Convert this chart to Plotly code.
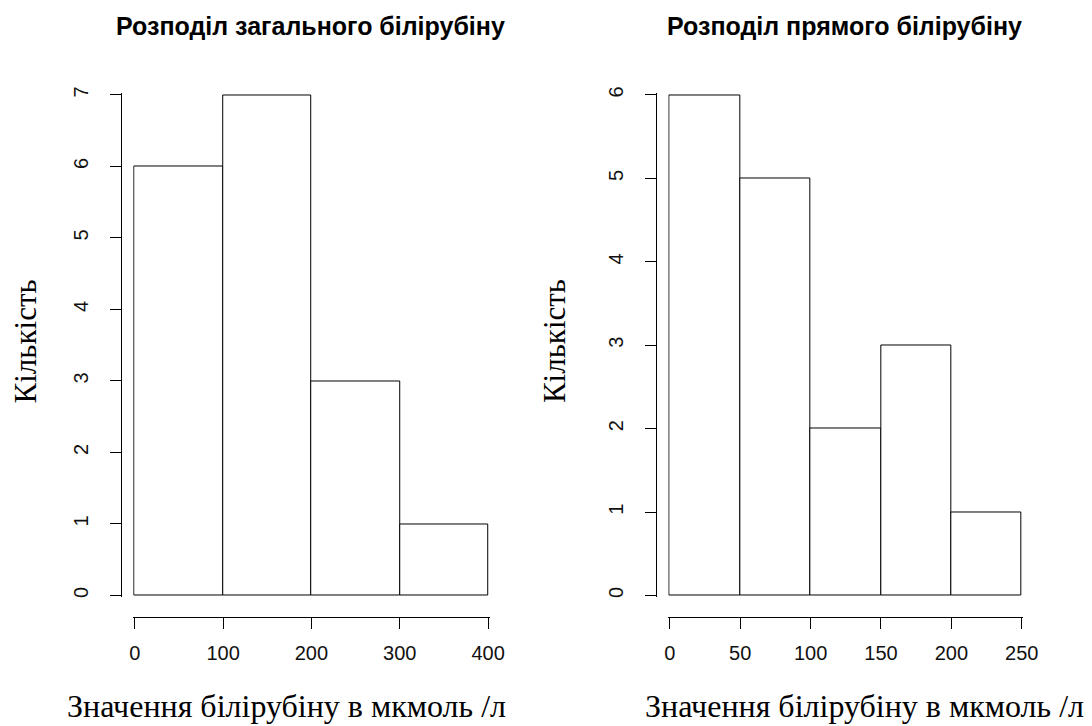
import plotly.graph_objects as go

# ---- data ----
total_edges = [0, 100, 200, 300, 400]
total_counts = [6, 7, 3, 1]
direct_edges = [0, 50, 100, 150, 200, 250]
direct_counts = [6, 5, 2, 3, 1]
total_ticks_x = [0, 100, 200, 300, 400]
total_ticks_y = [0, 1, 2, 3, 4, 5, 6, 7]
direct_ticks_x = [0, 50, 100, 150, 200, 250]
direct_ticks_y = [0, 1, 2, 3, 4, 5, 6]
titles = ["Розподіл загального білірубіну", "Розподіл прямого білірубіну"]
x_label = "Значення білірубіну в мкмоль /л"
y_label = "Кількість"

W, H = 1092, 726
PAD = 1.5  # px of padding so edge outlines are not clipped

# calibration of the rendered picture (observed = A * set + B)
AX, BX = 0.987, 1.7
AY, BY = 0.988, 6.1

def px_x(p):
    return ((p - BX) / AX) / W

def px_y(p):
    return 1 - ((p - BY) / AY) / H

def mids(edges):
    return [(a + b) / 2 for a, b in zip(edges[:-1], edges[1:])]

def widths(edges):
    return [b - a for a, b in zip(edges[:-1], edges[1:])]

fig = go.Figure()

panels = [
    dict(edges=total_edges, counts=total_counts, tx=total_ticks_x, ty=total_ticks_y,
         x0=133, x1=488, yaxis_px=119, xa="x", ya="y", xname="xaxis", yname="yaxis",
         title_x=310, xlab_x=285.5, ylab_x=23),
    dict(edges=direct_edges, counts=direct_counts, tx=direct_ticks_x, ty=direct_ticks_y,
         x0=670.5, x1=1024, yaxis_px=657, xa="x2", ya="y2", xname="xaxis2", yname="yaxis2",
         title_x=846, xlab_x=866.5, ylab_x=554),
]

Y0, Y1 = 594, 94      # pixel rows of y=0 and y=max tick
XAXIS_PX = 615.5      # pixel row of detached x axis line

font_tick = dict(family="Liberation Sans, Arial", size=20, color="#111111")
for i, p in enumerate(panels):
    fig.add_trace(go.Bar(
        x=mids(p["edges"]), y=p["counts"], width=widths(p["edges"]),
        marker=dict(color="white", line=dict(color="black", width=1)),
        xaxis=p["xa"], yaxis=p["ya"], showlegend=False, hoverinfo="x+y",
    ))
    xmin, xmax = p["tx"][0], p["tx"][-1]
    ymin, ymax = p["ty"][0], p["ty"][-1]
    ux = (xmax - xmin) / (p["x1"] - p["x0"])
    uy = (ymax - ymin) / (Y0 - Y1)
    fig.layout[p["xname"]] = dict(
        domain=[px_x(p["x0"] - PAD), px_x(p["x1"] + PAD)],
        range=[xmin - PAD * ux, xmax + PAD * ux],
        anchor="free", position=px_y(XAXIS_PX),
        tickvals=p["tx"], ticktext=[str(v) for v in p["tx"]],
        ticks="outside", ticklen=11, tickwidth=1, tickcolor="black",
        showline=True, linecolor="black", linewidth=1,
        showgrid=False, zeroline=False, tickfont=font_tick,
        ticklabelstandoff=7, fixedrange=True,
    )
    fig.layout[p["yname"]] = dict(
        domain=[px_y(Y0 + PAD), px_y(Y1 - PAD)],
        range=[ymin - PAD * uy, ymax + PAD * uy],
        anchor="free", position=px_x(p["yaxis_px"]),
        tickvals=p["ty"], ticktext=[str(v) for v in p["ty"]],
        ticks="outside", ticklen=11, tickwidth=1, tickcolor="black",
        showline=True, linecolor="black", linewidth=1,
        showgrid=False, zeroline=False, tickfont=font_tick, tickangle=-90,
        ticklabelstandoff=14, fixedrange=True,
    )
    fig.add_annotation(text="<b>" + titles[i] + "</b>",
                       x=px_x(p["title_x"]), y=px_y(25), xref="paper", yref="paper",
                       xanchor="center", yanchor="middle", showarrow=False,
                       font=dict(family="Liberation Sans, Arial", size=25, color="black"))
    fig.add_annotation(text=x_label, x=px_x(p["xlab_x"]), y=px_y(704),
                       xref="paper", yref="paper", xanchor="center", yanchor="middle",
                       showarrow=False,
                       font=dict(family="Liberation Serif, Times New Roman", size=32, color="black"))
    fig.add_annotation(text=y_label, x=px_x(p["ylab_x"]), y=px_y(340),
                       xref="paper", yref="paper", xanchor="center", yanchor="middle",
                       textangle=-90, showarrow=False,
                       font=dict(family="Liberation Serif, Times New Roman", size=31, color="black"))

fig.update_layout(
    width=W, height=H,
    margin=dict(l=0, r=0, t=0, b=0),
    paper_bgcolor="white", plot_bgcolor="white",
    bargap=0, showlegend=False,
)

fig.write_html(
    "out.html",
    config={"displayModeBar": False},
    post_script=(
        "var gd=document.getElementById('{plot_id}');"
        "gd.style.position='fixed';gd.style.top='0px';gd.style.left='0px';"
        "document.documentElement.style.margin='0';"
        "document.documentElement.style.overflow='hidden';"
        "document.body.style.margin='0';"
        "document.body.style.padding='0';"
        "document.body.style.overflow='hidden';"
    ),
)
